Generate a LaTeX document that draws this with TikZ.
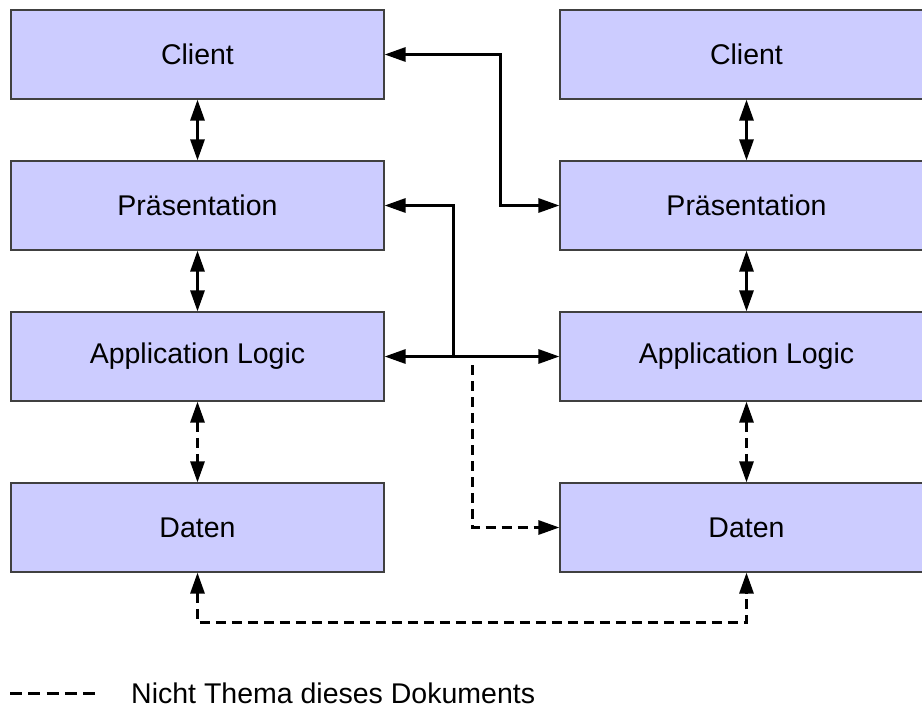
\documentclass[tikz,border=0pt]{standalone}
\usepackage{fontspec}
\setmainfont{Liberation Sans}
\usetikzlibrary{arrows.meta}
\begin{document}
\begin{tikzpicture}[x=1pt,y=-1pt,
  layerbox/.style={draw=black!75, line width=1.2pt, fill=boxfill, rectangle,
    minimum width=373pt, minimum height=89pt, inner sep=0pt,
    font=\fontsize{28.5}{34}\selectfont},
  tipa/.tip={Triangle[length=21pt,width=14pt]},
  conn/.style={line width=3pt, line join=miter, -tipa},
  bconn/.style={conn, tipa-tipa},
  dconn/.style={conn, dash pattern=on 10pt off 6pt},
  legtext/.style={font=\fontsize{28.5}{34}\selectfont, inner sep=0pt, anchor=base west}]
\definecolor{boxfill}{HTML}{CCCCFF}
\useasboundingbox (0,0) rectangle (922,707);
\clip (0,0) rectangle (922,707);
% left column
\node[layerbox] (lc) at (197.5,54.5) {Client};
\node[layerbox] (lp) at (197.5,205.5) {Präsentation};
\node[layerbox] (la) at (197.5,356.5) {Application Logic};
\node[layerbox] (ld) at (197.5,527.5) {Daten};
% right column
\node[layerbox] (rc) at (746.5,54.5) {Client};
\node[layerbox] (rp) at (746.5,205.5) {Präsentation};
\node[layerbox] (ra) at (746.5,356.5) {Application Logic};
\node[layerbox] (rd) at (746.5,527.5) {Daten};
% vertical connectors
\draw[bconn] (lc) -- (lp);
\draw[bconn] (lp) -- (la);
\draw[dconn, tipa-tipa] (la) -- (ld);
\draw[bconn] (rc) -- (rp);
\draw[bconn] (rp) -- (ra);
\draw[dconn, tipa-tipa] (ra) -- (rd);
% cross connectors
\draw[bconn] (lc.east) -- ++(116,0) |- (rp.west);
\draw[bconn] (la.east) -- (ra.west);
\coordinate (jp) at (453,356.5);
\draw[conn] (jp) |- (lp.east);
\coordinate (dj) at (472,365);
\draw[dconn] (dj) |- (rd.west);
\draw[dconn, tipa-tipa] (ld.south) -- ++(0,50) -| (rd.south);
% legend
\coordinate (lg0) at (10,693);
\coordinate (lg1) at (95,693);
\draw[line width=3pt, dash pattern=on 12pt off 6.25pt] (lg0) -- (lg1);
\node[legtext] (lgt) at (131,703.5) {Nicht Thema dieses Dokuments};
\end{tikzpicture}
\end{document}
